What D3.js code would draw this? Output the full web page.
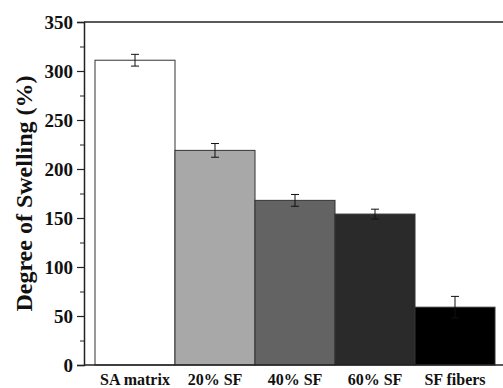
<!DOCTYPE html>
<html>
<head>
<meta charset="utf-8">
<script src="https://d3js.org/d3.v7.min.js"></script>
<style>
    body { margin: 0; background: #fff; }
    text { font-family: "Liberation Serif", "Times New Roman", serif; font-weight: bold; fill: #111; }
</style>
</head>
<body>
<svg width="503" height="388"></svg>
<script>
    var categories = ["SA matrix", "20% SF", "40% SF", "60% SF", "SF fibers"];
    var swelling = [311, 219, 168, 154, 59];
    var errors = [6, 7, 6, 5, 11];
    var fills = ["#ffffff", "#a8a8a8", "#636363", "#2a2a2a", "#000000"];
    var yTicks = [0, 50, 100, 150, 200, 250, 300, 350];

    var svg = d3.select("svg");
    var mLeft = 84, mTop = 22, mBottom = 365, mRight = 515;

    var x = d3.scaleBand()
        .domain(categories)
        .range([95, 495])
        .padding(0);

    var y = d3.scaleLinear()
        .domain([0, 350])
        .range([mBottom, mTop]);

    // bars
    svg.selectAll(".bar")
        .data(categories)
        .enter().append("rect")
        .attr("class", "bar")
        .attr("x", d => x(d))
        .attr("y", (d, i) => y(swelling[i]))
        .attr("width", x.bandwidth())
        .attr("height", (d, i) => mBottom - y(swelling[i]))
        .attr("fill", (d, i) => fills[i])
        .attr("stroke", "#333")
        .attr("stroke-width", 1);

    // error bars
    var eb = svg.selectAll(".err")
        .data(categories)
        .enter().append("g")
        .attr("class", "err")
        .attr("stroke", "#111")
        .attr("stroke-width", 1);
    eb.append("line")
        .attr("x1", d => x(d) + x.bandwidth() / 2)
        .attr("x2", d => x(d) + x.bandwidth() / 2)
        .attr("y1", (d, i) => y(swelling[i] + errors[i]))
        .attr("y2", (d, i) => y(swelling[i] - errors[i]));
    [1, -1].forEach(function (s) {
        eb.append("line")
            .attr("x1", d => x(d) + x.bandwidth() / 2 - 4)
            .attr("x2", d => x(d) + x.bandwidth() / 2 + 4)
            .attr("y1", (d, i) => y(swelling[i] + s * errors[i]))
            .attr("y2", (d, i) => y(swelling[i] + s * errors[i]));
    });

    // frame
    svg.append("line").attr("x1", mLeft).attr("x2", mRight).attr("y1", mTop).attr("y2", mTop)
        .attr("stroke", "#222").attr("stroke-width", 1.5);

    // y axis
    var yAxis = svg.append("g")
        .attr("transform", "translate(" + mLeft + ",0)")
        .call(d3.axisLeft(y).tickValues(yTicks).tickSize(7).tickPadding(4));
    yAxis.select(".domain").attr("stroke", "#222").attr("stroke-width", 1.5);
    yAxis.selectAll(".tick line").attr("stroke", "#222").attr("stroke-width", 1.2);
    yAxis.selectAll(".tick text").style("font-size", "19px");

    var minor = svg.append("g")
        .attr("transform", "translate(" + mLeft + ",0)")
        .call(d3.axisLeft(y).tickValues(yTicks.slice(0, -1).map(v => v + 25)).tickSize(4).tickFormat(""));
    minor.select(".domain").remove();
    minor.selectAll(".tick line").attr("stroke", "#222");

    // x axis
    var xAxis = svg.append("g")
        .attr("transform", "translate(0," + mBottom + ")")
        .call(d3.axisBottom(x).tickSize(0).tickPadding(9));
    xAxis.select(".domain").remove();
    svg.append("line").attr("x1", mLeft).attr("x2", mRight).attr("y1", mBottom).attr("y2", mBottom)
        .attr("stroke", "#222").attr("stroke-width", 1.5);
    xAxis.selectAll(".tick text").style("font-size", "16px");

    // y label
    svg.append("text")
        .attr("transform", "translate(32," + ((mTop + mBottom) / 2) + ") rotate(-90)")
        .attr("text-anchor", "middle")
        .style("font-size", "24px")
        .text("Degree of Swelling (%)");
</script>
</body>
</html>
